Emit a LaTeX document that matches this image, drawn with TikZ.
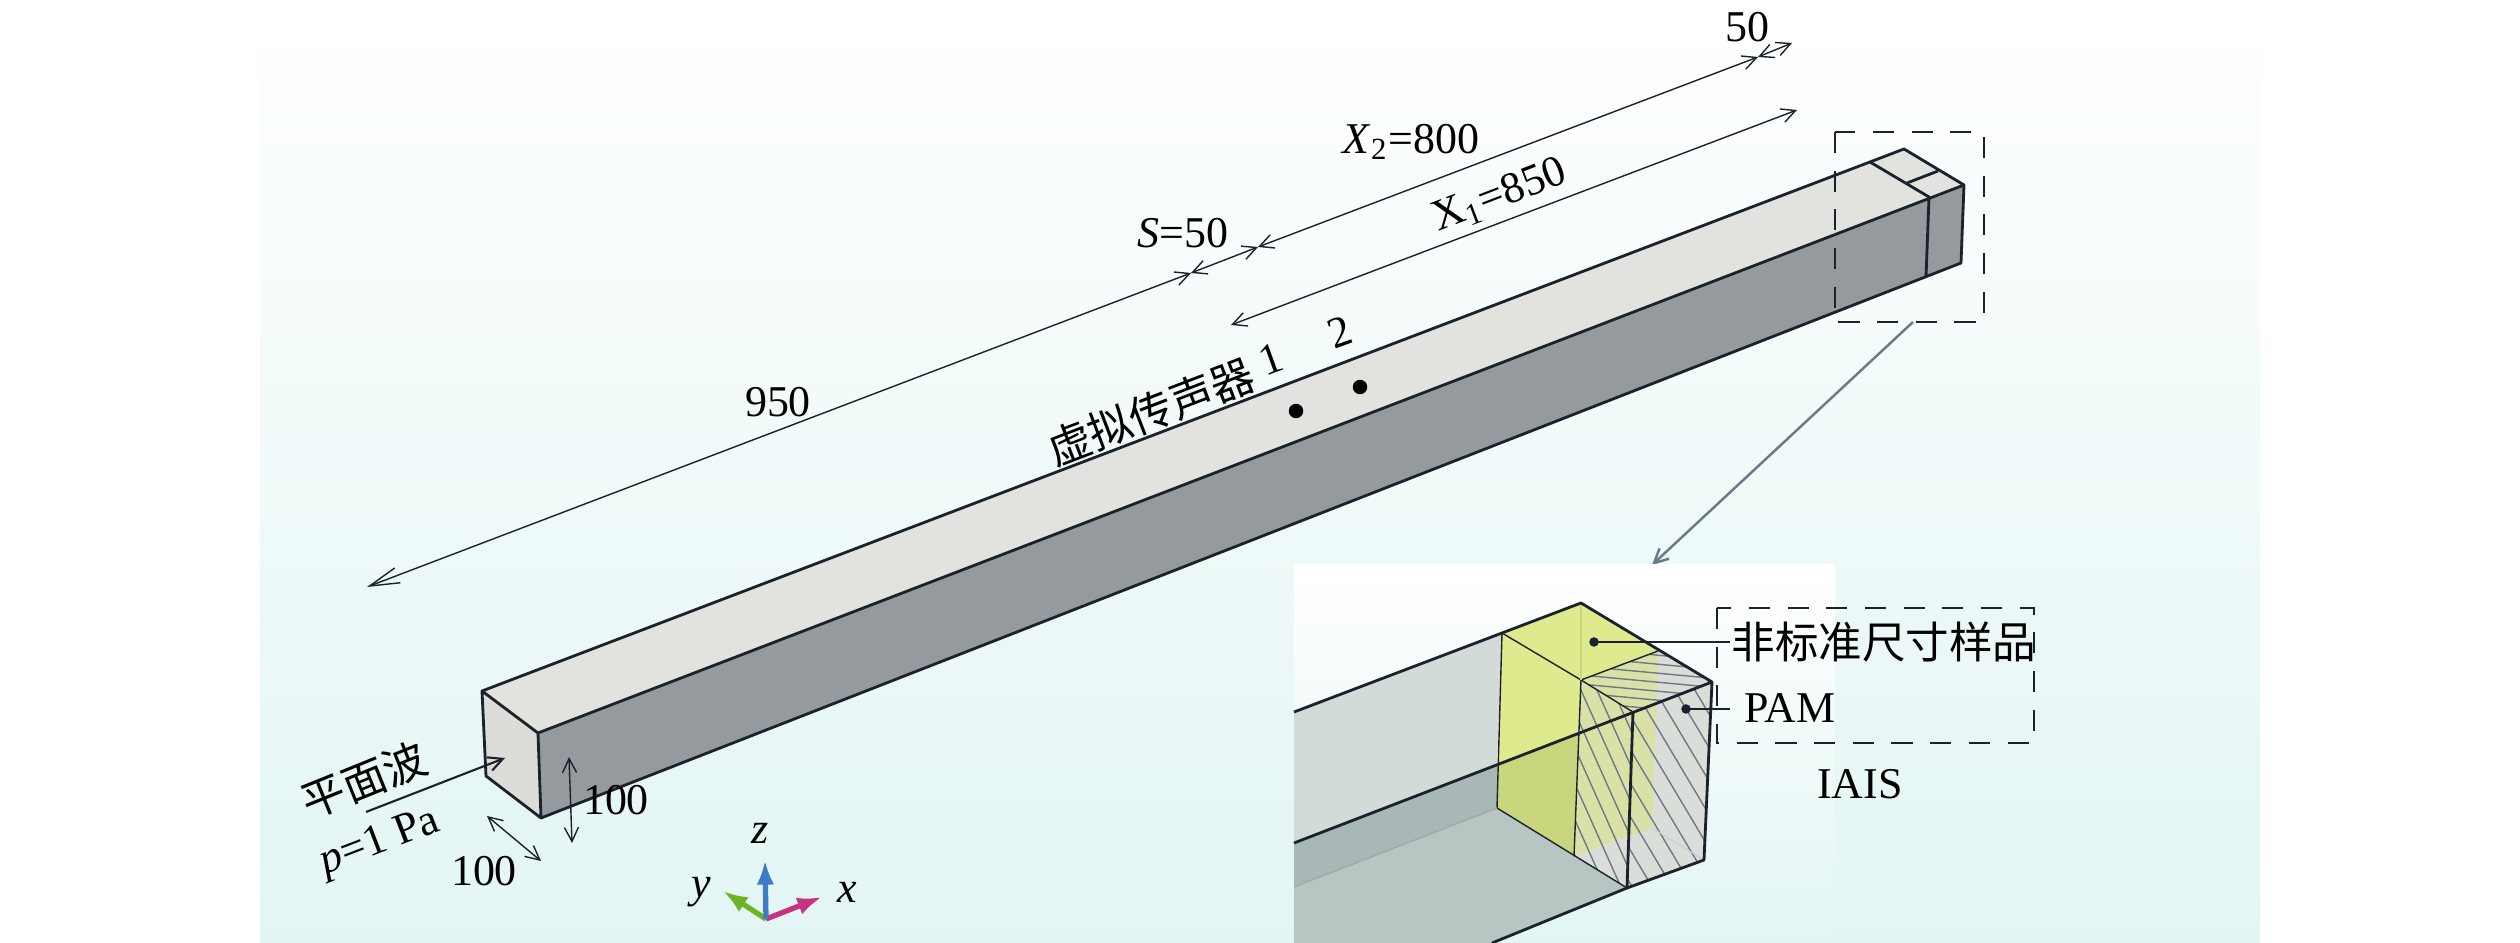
\documentclass[tikz,border=0pt]{standalone}
\usepackage{fontspec}
\setmainfont{Liberation Serif}
\newfontfamily\cjk{Noto Sans CJK SC}[Scale=0.99]
\usetikzlibrary{arrows.meta}
\definecolor{edgecol}{HTML}{1C222C}
\definecolor{topcol}{HTML}{E2E2DE}
\definecolor{sidecol}{HTML}{949A9D}
\definecolor{frontcol}{HTML}{DCDCD8}
\definecolor{callcol}{HTML}{6C7A88}
\definecolor{bgbot}{HTML}{E2F5F4}
\definecolor{ingray}{HTML}{D3DBD9}
\definecolor{indark}{HTML}{A9B7B7}
\definecolor{inlow}{HTML}{B7C5C3}
\definecolor{inyellow}{HTML}{DEEA8D}
\definecolor{inolive}{HTML}{C9D67E}
\definecolor{inpale}{HTML}{DAE1A6}
\definecolor{inpam}{HTML}{DBDDD9}
\tikzset{
  edge/.style={edgecol, line width=0.8pt, line join=round},
  thinedge/.style={edgecol, line width=0.4pt},
  dim/.style={edgecol, line width=0.4pt, <->},
  hatchline/.style={callcol, line width=0.4pt},
  lbl/.style={inner sep=0pt, font=\fontsize{12.5}{14}\selectfont},
  dashbox/.style={edgecol, line width=0.5pt, dash pattern=on 6pt off 5pt},
}
\begin{document}
\begin{tikzpicture}[x=0.01cm, y=-0.01cm, >={Straight Barb[length=4pt, width=4pt]}]

  \useasboundingbox (0,0) rectangle (2520,943);
  \shade[top color=white, bottom color=bgbot] (260,0) rectangle (2260,943);

  \coordinate (a) at (482,691);
  \coordinate (b) at (538,733);
  \coordinate (c) at (541,818);
  \coordinate (d) at (486,776);
  \coordinate (e) at (1904,149);
  \coordinate (f) at (1964,185);
  \coordinate (g) at (1961,263);
  \coordinate (h1) at (1870,162);
  \coordinate (h2) at (1929,197);
  \coordinate (h3) at (1926,277);
  \coordinate (k1) at (1907,183);
  \coordinate (k2) at (1938,171);

  \fill[topcol] (a) -- (e) -- (f) -- (b) -- cycle;
  \fill[sidecol] (b) -- (f) -- (g) -- (c) -- cycle;
  \fill[frontcol] (a) -- (b) -- (c) -- (d) -- cycle;
  \draw[edge] (a) -- (e) -- (f) -- (g) -- (c) -- (d) -- (a) -- (b) -- (c);
  \draw[edge] (b) -- (f);
  \draw[edge] (h1) -- (h2) -- (h3);
  \draw[edge] (k1) -- (k2);

  \coordinate (dimA) at (367,587);
  \coordinate (dimB) at (1191,273);
  \coordinate (dimC) at (1258,247);
  \coordinate (dimD) at (1758,57);
  \coordinate (dimE) at (1792,43);
  \coordinate (dimF) at (1231,325);
  \coordinate (dimG) at (1797,110);
  \draw[dim, {Straight Barb[length=8.5pt, width=4.5pt]}-{Straight Barb[length=4pt, width=4pt]}] (dimA) -- (dimB);
  \draw[dim] (dimB) -- (dimC);
  \draw[dim] (dimC) -- (dimD);
  \draw[dim] (dimD) -- (dimE);
  \draw[dim] (dimF) -- (dimG);

  \node[lbl] (l950) at (778,402) {950};
  \node[lbl] (lS) at (1183,233) {\textit{S}=50};
  \node[lbl] (lX2) at (1411,142) {\textit{X}\textsubscript{2}=800};
  \node[lbl, rotate=21] (lX1) at (1500,196) {X\textsubscript{1}=850};
  \node[lbl] (l50) at (1747,27) {50};
  \node[lbl, rotate=21] (lmic) at (1151,412) {\cjk 虚拟传声器};
  \node[lbl, rotate=20] (lone) at (1271,359) {1};
  \node[lbl, rotate=20] (ltwo) at (1340,332) {2};

  \filldraw[black] (1296,411) coordinate(m1) circle (6.5);
  \filldraw[black] (1360,387) coordinate(m2) circle (6.5);

  \coordinate (waveA) at (366,812);
  \coordinate (waveB) at (505,758);
  \draw[->, edgecol, line width=0.6pt] (waveA) -- (waveB);
  \coordinate (zA) at (569,757);
  \coordinate (zB) at (572,843);
  \draw[dim] (zA) -- (zB);
  \coordinate (yA) at (487,816);
  \coordinate (yB) at (541,861);
  \draw[dim] (yA) -- (yB);

  \node[lbl, rotate=22] (lwave) at (364,780) {\cjk 平面波};
  \node[lbl, rotate=21] (lp) at (380,843) {\textit{p}=1 Pa};
  \node[lbl] (lh) at (616,800) {100};
  \node[lbl] (lw) at (484,871) {100};

  \coordinate (o) at (766,919);
  \coordinate (xt) at (822,897);
  \coordinate (yt) at (723,891);
  \coordinate (zt) at (765,860);
  \draw[-{Latex[length=7pt, width=5pt]}, line width=1.5pt, color={rgb,255:red,200;green,50;blue,130}] (o) -- (xt);
  \draw[-{Latex[length=7pt, width=5pt]}, line width=1.5pt, color={rgb,255:red,110;green,180;blue,40}] (o) -- (yt);
  \draw[-{Latex[length=7pt, width=5pt]}, line width=1.5pt, color={rgb,255:red,60;green,125;blue,195}] (o) -- (zt);
  \node[lbl] (lz) at (760,833) {\textit{z}};
  \node[lbl] (ly) at (701,892) {\textit{y}};
  \node[lbl] (lx) at (847,892) {\textit{x}};

  \draw[dashbox] (1835,132) rectangle (1984,322);
  \coordinate (zoomA) at (1913,322);
  \coordinate (zoomB) at (1652,565);
  \draw[->, callcol, line width=0.7pt] (zoomA) -- (zoomB);

  \shade[top color=white, bottom color=bgbot] (1294,565) rectangle (1835,943);

  \coordinate (t1) at (1294,712);
  \coordinate (t2) at (1294,843);
  \coordinate (t3) at (1294,887);
  \coordinate (p1) at (1502,633);
  \coordinate (p2) at (1581,603);
  \coordinate (p3) at (1712,682);
  \coordinate (p4) at (1633,712);
  \coordinate (p5) at (1581,680);
  \coordinate (p6) at (1658,651);
  \coordinate (q1) at (1497,808);
  \coordinate (q3) at (1704,860);
  \coordinate (q4) at (1627,888);
  \coordinate (q5) at (1574,856);
  \coordinate (q6) at (1652,828);
  \coordinate (q7) at (1497,765);
  \coordinate (q8) at (1492,943);
  \coordinate (q9) at (1578,734);

  \fill[ingray] (t1) -- (p1) -- (q7) -- (t2) -- cycle;
  \fill[indark] (t2) -- (q7) -- (q1) -- (t3) -- cycle;
  \fill[inlow] (t3) -- (q1) -- (q4) -- (q8) -- (1294,943) -- cycle;
  \fill[inyellow] (p1) -- (p2) -- (p6) -- (p5) -- cycle;
  \fill[inyellow] (p1) -- (p5) -- (q5) -- (q1) -- cycle;
  \fill[inolive] (q7) -- (q9) -- (q5) -- (q1) -- cycle;
  \fill[inpam] (p5) -- (p6) -- (p3) -- (p4) -- cycle;
  \fill[inpam] (p4) -- (p3) -- (q3) -- (q4) -- cycle;
  \fill[inpam] (q5) -- (q6) -- (q4) -- cycle;
  \fill[inpale] (p5) -- (p6) -- (q6) -- (q5) -- cycle;

  \begin{scope}
    \clip (p5) -- (p6) -- (p3) -- (p4) -- cycle;
    \foreach \dy in {620,629,...,720} {
      \draw[hatchline] (1570,\dy) -- ++(150,14);
    }
  \end{scope}
  \begin{scope}
    \clip (p5) -- (p4) -- (q4) -- (q5) -- cycle;
    \foreach \dx in {1492,1508,...,1640} {
      \draw[hatchline] (\dx,670) -- ++(100,224);
    }
  \end{scope}
  \begin{scope}
    \clip (p4) -- (p3) -- (q3) -- (q4) -- cycle;
    \foreach \dx in {1620,1640,...,1860} {
      \draw[hatchline] (\dx,900) -- ++(-130,-218);
    }
  \end{scope}

  \draw[thinedge] (p1) -- (p5) -- (p4);
  \draw[thinedge] (p5) -- (p6);
  \draw[thinedge] (p1) -- (q1) -- (q4);
  \draw[thinedge] (p5) -- (q5);
  \draw[inolive, line width=0.4pt] (p2) -- (p5);
  \draw[gray!40, line width=0.3pt] (q6) -- (q3);
  \draw[gray!70] (t3) -- (q1);
  \draw[edge] (t1) -- (p2) -- (p3) -- (t2);
  \draw[edge] (p3) -- (q3) -- (q4) -- (p4);
  \draw[edge] (q8) -- (q4);

  \draw[dashbox] (1717,608) rectangle (2034,743);

  \filldraw[edgecol] (1594,642) coordinate(s1) circle (4);
  \coordinate (s2) at (1730,642);
  \draw[thinedge] (s1) -- (s2);
  \filldraw[edgecol] (1686,709) coordinate(r1) circle (4);
  \coordinate (r2) at (1730,709);
  \draw[thinedge] (r1) -- (r2);

  \node[lbl] (lsample) at (1884,642) {\cjk 非标准尺寸样品};
  \node[lbl] (lpam) at (1790,708) {PAM};
  \node[lbl] (liais) at (1860,784) {IAIS};

\end{tikzpicture}
\end{document}
